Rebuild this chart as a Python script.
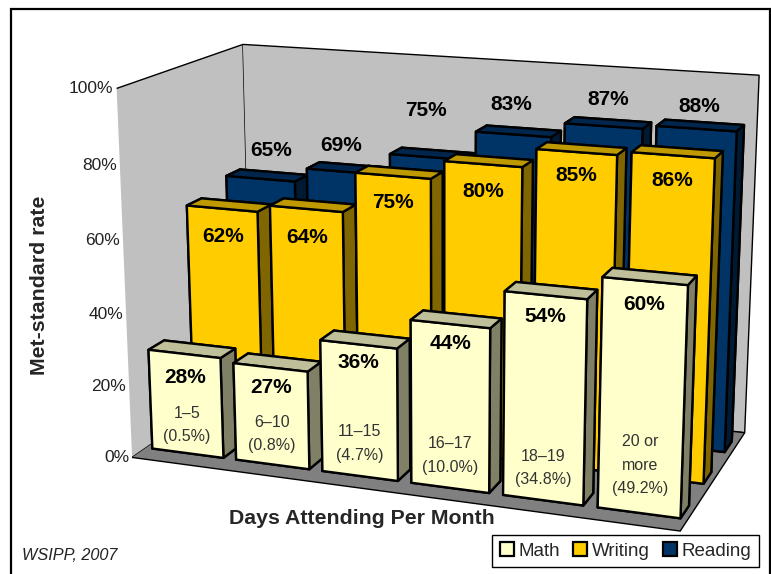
import numpy as np, pandas as pd, matplotlib
matplotlib.use("Agg")
import matplotlib.pyplot as plt, seaborn as sns
from matplotlib.patches import Patch, Rectangle
from mpl_toolkits.mplot3d import proj3d

categories = ["1–5\n(0.5%)", "6–10\n(0.8%)", "11–15\n(4.7%)", "16–17\n(10.0%)", "18–19\n(34.8%)", "20 or\nmore\n(49.2%)"]
math_vals = [28, 27, 36, 44, 54, 60]
writing_vals = [62, 64, 75, 80, 85, 86]
reading_vals = [65, 69, 75, 83, 87, 88]
series_names = ["Math", "Writing", "Reading"]
tick_values = [0, 20, 40, 60, 80, 100]

sns.set_theme(style="white")
plt.rcParams["font.family"] = ["Liberation Sans", "DejaVu Sans"]
W, H = 771, 574
fig = plt.figure(figsize=(W/100, H/100), dpi=100)
ax = fig.add_axes([246.3/W, 109.2/H, 384/W, 384/H], projection="3d", computed_zorder=False)
ax.set_proj_type("persp", focal_length=1)
ax.set_xlim(0, 6, view_margin=0); ax.set_ylim(0, 3, view_margin=0); ax.set_zlim(0, 100, view_margin=0)
ax.view_init(elev=15.2265, azim=-70.067, roll=0)
ax.set_box_aspect((np.exp(0.4058), np.exp(-0.2858), 1), zoom=np.exp(0.6194))

def project(x, y, z):
    px, py, _ = proj3d.proj_transform(x, y, z, ax.get_proj())
    return px, py

def label3d(x, y, z, s, **kw):
    px, py = project(x, y, z)
    return ax.text2D(px, py, s, transform=ax.transData, ha="center", va="center", **kw)

pal = {"Math":"#FFFFCC","Writing":"#FFCC00","Reading":"#003366"}
df = pd.DataFrame({"cat":categories,"Math":math_vals,"Writing":writing_vals,"Reading":reading_vals}).melt(id_vars="cat",var_name="series",value_name="rate")
bw, bd = 0.85, 0.36
label_dz = {"Math":[-6.5,-5.5,-5,-5,-5.5,-6], "Writing":[-7.8,-7.8,-7.3,-7.3,-6.2,-6.4], "Reading":[8.5,7.5,13,8.2,7.2,6]}
label_dx = {"Math":[0]*6, "Writing":[0]*6, "Reading":[.14,0,0,-.03,.04,.02]}
z = 1
for si in [2,1,0]:
    name = series_names[si]
    sub = df[df.series==name].reset_index(drop=True)
    front = np.array(matplotlib.colors.to_rgb(pal[name]))
    for i,row in sub.iterrows():
        cols = [tuple(front)]*6
        cols[1] = tuple(front*.75); cols[5]=cols[4]=tuple(front*.5)
        c = ax.bar3d(i+(1-bw)/2, si+(1-bd)/2, 0, bw, bd, row.rate, color=cols, shade=False, edgecolor="black", linewidth=1.7, zorder=z)
        c.set_clip_on(False)
        z += 1
        label3d(i+.5+label_dx[name][i], si+(1-bd)/2, row.rate+label_dz[name][i], f"{row.rate}%", fontsize=15, fontweight="bold", color="black", zorder=100+z)
sub_z = [8.0,8.5,9,8.8,8.6,12.6]
for i,t in enumerate(categories):
    label3d(i+.5, (1-bd)/2, sub_z[i], t, fontsize=11.5, color="#333333", linespacing=1.7, zorder=300)

for a,c in [(ax.xaxis,"#C0C0C0"),(ax.yaxis,"#C0C0C0"),(ax.zaxis,"#808080")]:
    a.pane.set_facecolor(c); a.pane.set_edgecolor("black"); a.pane.set_alpha(1); a.line.set_color((0,0,0,0))
ax.grid(False)
ax.set_xticks([]); ax.set_yticks([]); ax.set_zticks([])
for v in tick_values:
    ax.annotate(f"{v}%", xy=project(0, 0, v), xycoords="data", xytext=(-2.2, 0), textcoords="offset points",
                ha="right", va="center", fontsize=12.5, color="#222222", annotation_clip=False)

fig.text(40/W, 1-285/H, "Met-standard rate", rotation=90, ha="center", va="center", fontsize=15.3, fontweight="bold")
fig.text(362/W, 1-518/H, "Days Attending Per Month", ha="center", va="center", fontsize=15.3, fontweight="bold")
fig.text(22/W, 1-555/H, "WSIPP, 2007", ha="left", va="center", fontsize=11.7, style="italic", color="#222222")
fig.add_artist(Rectangle((11/W,-.1),(770-11)/W,1.1-9/H,fill=False,ec="black",lw=1.6,transform=fig.transFigure))
h=[Patch(fc=pal[n],ec="black",lw=1.6,label=n) for n in series_names]
leg=fig.legend(handles=h,ncol=3,loc="lower right",bbox_to_anchor=(759/W,1-567/H),frameon=True,fancybox=False,edgecolor="black",framealpha=1,fontsize=13.5,handlelength=.75,handleheight=.75,handletextpad=.25,columnspacing=.7,borderaxespad=0,borderpad=.4)
fig.savefig("out.png",dpi=100)
